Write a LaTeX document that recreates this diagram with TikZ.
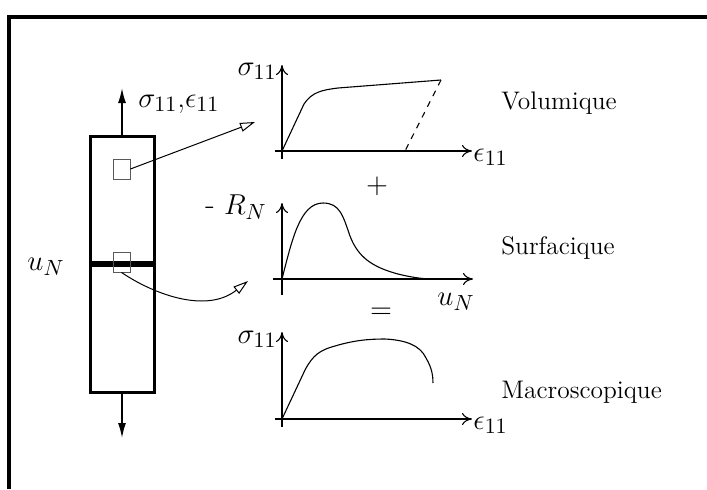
\documentclass[tikz,border=0pt]{standalone}
\usetikzlibrary{arrows.meta}
\begin{document}
\begin{tikzpicture}[x=0.5pt,y=-0.5pt,
  font=\fontsize{12.7}{15}\selectfont,
  thinline/.style={line width=0.5pt},
  axisline/.style={line width=0.55pt,-{To[length=5pt,width=6pt]}},
  curve/.style={line width=0.55pt},
  sq/.style={draw=black!65,line width=0.4pt,minimum width=8.5pt,minimum height=10pt,inner sep=0pt},
  conn/.style={line width=0.5pt,-{Triangle[open,length=7.5pt,width=4.5pt]}},
  force/.style={line width=0.8pt,-{Latex[length=7.5pt,width=4pt]}},
  lbl/.style={inner sep=1pt},
  mlbl/.style={inner sep=1pt,font=\fontsize{15.5}{18}\selectfont}]
\useasboundingbox (0,0) rectangle (707,489);
% frame
\draw[line width=2pt,line join=miter] (9,489) -- (9,17) -- (707,17);
% specimen
\node (bar) [draw,line width=1.5pt,minimum width=32pt,minimum height=128pt,inner sep=0pt] at (122,264) {};
\draw[line width=3pt] (bar.west) -- (bar.east);
\coordinate (topTip) at (122,88);
\coordinate (botTip) at (122,438);
\draw[force] (bar.north) -- (topTip);
\draw[force] (bar.south) -- (botTip);
\node (sig) [mlbl,anchor=west] at (136,104) {$\sigma_{11}$,$\epsilon_{11}$};
\node (uN) [mlbl] at (46,267) {$u_N$};
% small squares
\node (sqA) [sq] at (121.5,169) {};
\node (sqB) [sq] at (121.5,262) {};
\coordinate (tipA) at (255,122);
\coordinate (tipB) at (248,281);
\draw[conn] (sqA.east) -- (tipA);
\draw[conn] (sqB.south) .. controls (150,292) and (205,315) .. (tipB);
% graph 1
\coordinate (o1) at (282,151);
\draw[axisline] (282,159) -- (282,65);
\draw[axisline] (275,151) -- (472,151);
\node (s1) [mlbl,anchor=east] at (279,71) {$\sigma_{11}$};
\node (e1) [mlbl,anchor=west] at (471,157) {$\epsilon_{11}$};
\draw[curve] (o1) -- (304,104) .. controls (312,92) and (322,90) .. (338,88) -- (441,80);
\draw[curve,dashed] (441,80) -- (405,151);
\node (plus) [mlbl] at (377,186) {$+$};
% graph 2
\coordinate (o2) at (282,279);
\draw[axisline] (282,295) -- (282,203);
\draw[axisline] (273,279) -- (473,279);
\node (RN) [mlbl] at (236,207) {- $R_N$};
\node (u2) [mlbl] at (456,302) {$u_N$};
\draw[curve] (o2) .. controls (292,240) and (300,203) .. (323,203)
  .. controls (340,203) and (343,216) .. (350,236)
  .. controls (358,257) and (372,267) .. (398,274)
  .. controls (414,278) and (425,279) .. (433,279);
\node (eq) [mlbl] at (381,313) {$=$};
% graph 3
\coordinate (o3) at (282,419);
\draw[axisline] (282,427) -- (282,332);
\draw[axisline] (275,419) -- (472,419);
\node (s3) [mlbl,anchor=east] at (279,339) {$\sigma_{11}$};
\node (e3) [mlbl,anchor=west] at (471,425) {$\epsilon_{11}$};
\draw[curve] (o3) -- (305,370) .. controls (313,355) and (320,350) .. (335,346)
  .. controls (355,340) and (370,339) .. (385,339)
  .. controls (405,340) and (420,345) .. (426,358)
  .. controls (432,368) and (433,376) .. (433,383);
% titles
\node (vol) [lbl,anchor=west] at (499,103) {Volumique};
\node (surf) [lbl,anchor=west] at (499,248) {Surfacique};
\node (macro) [lbl,anchor=west] at (499,392) {Macroscopique};
\end{tikzpicture}
\end{document}
